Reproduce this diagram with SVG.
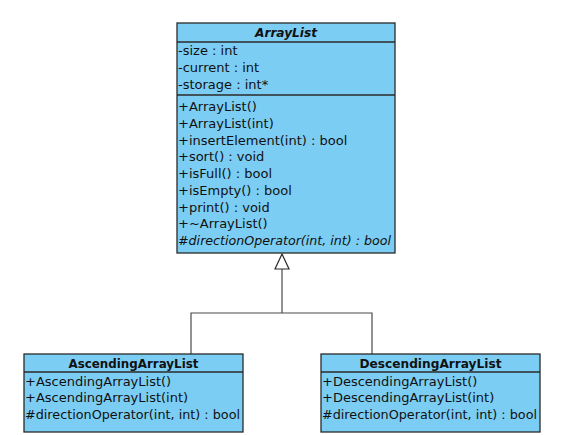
<svg xmlns="http://www.w3.org/2000/svg" width="573" height="435" viewBox="0 0 573 435">
<style>
.box{fill:#7ccdf3;stroke:#2a2a2a;stroke-width:1.3}
.sep{stroke:#2a2a2a;stroke-width:1.3}
text{font-family:"DejaVu Sans","Liberation Sans",sans-serif;font-size:13px;fill:#111}
.title{font-weight:bold;text-anchor:middle}
.it{font-style:italic}
.conn{fill:none;stroke:#4a4a4a;stroke-width:1.2}
</style>
<rect width="573" height="435" fill="#ffffff"/>
<g id="connectors">
<polyline class="conn" points="191,354 191,313 372,313 372,354"/>
<line class="conn" x1="282" y1="313" x2="282" y2="269"/>
<polygon points="282,254 275,269 289,269" fill="#ffffff" stroke="#2a2a2a" stroke-width="1.2"/>
</g>
<g id="ArrayList">
<rect class="box" x="177" y="23" width="218" height="230"/>
<line class="sep" x1="177" y1="42" x2="395" y2="42"/>
<line class="sep" x1="177" y1="95" x2="395" y2="95"/>
<text class="title it" x="286" y="37" textLength="62" lengthAdjust="spacingAndGlyphs">ArrayList</text>
<text x="178" y="55">-size : int</text>
<text x="178" y="72">-current : int</text>
<text x="178" y="89">-storage : int*</text>
<text x="178" y="111">+ArrayList()</text>
<text x="178" y="128">+ArrayList(int)</text>
<text x="178" y="144.5">+insertElement(int) : bool</text>
<text x="178" y="161">+sort() : void</text>
<text x="178" y="178">+isFull() : bool</text>
<text x="178" y="195">+isEmpty() : bool</text>
<text x="178" y="211.5">+print() : void</text>
<text x="178" y="228">+~ArrayList()</text>
<text class="it" x="178" y="245" textLength="213" lengthAdjust="spacingAndGlyphs">#directionOperator(int, int) : bool</text>
</g>
<g id="AscendingArrayList">
<rect class="box" x="24" y="354" width="219" height="78"/>
<line class="sep" x1="24" y1="372" x2="243" y2="372"/>
<text class="title" x="133.5" y="368" textLength="130" lengthAdjust="spacingAndGlyphs">AscendingArrayList</text>
<text x="25" y="386">+AscendingArrayList()</text>
<text x="25" y="402">+AscendingArrayList(int)</text>
<text x="25" y="419" textLength="215" lengthAdjust="spacingAndGlyphs">#directionOperator(int, int) : bool</text>
</g>
<g id="DescendingArrayList">
<rect class="box" x="321" y="354" width="219" height="78"/>
<line class="sep" x1="321" y1="372" x2="540" y2="372"/>
<text class="title" x="430.5" y="368" textLength="142" lengthAdjust="spacingAndGlyphs">DescendingArrayList</text>
<text x="322" y="386">+DescendingArrayList()</text>
<text x="322" y="402">+DescendingArrayList(int)</text>
<text x="322" y="419" textLength="215" lengthAdjust="spacingAndGlyphs">#directionOperator(int, int) : bool</text>
</g>
</svg>
